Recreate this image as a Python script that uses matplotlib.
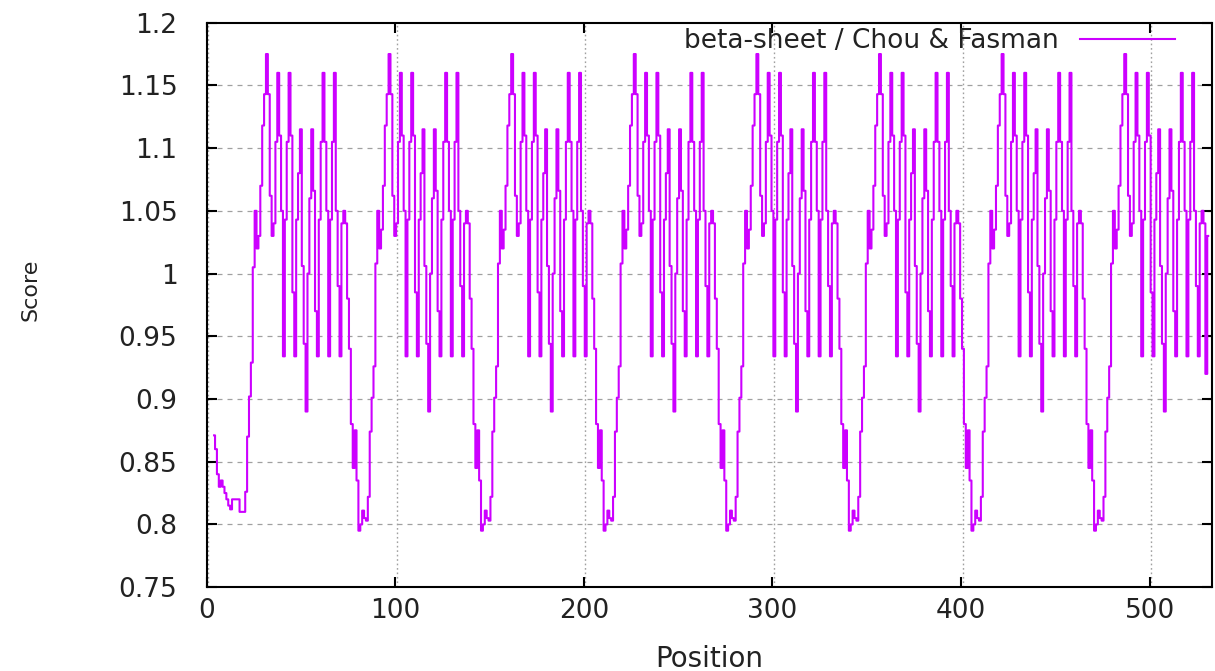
import numpy as np
import matplotlib
matplotlib.use("Agg")
import matplotlib.pyplot as plt

# first residues (before the repeat starts), positions 4..31
head = [0.871, 0.860, 0.840, 0.830, 0.835, 0.830, 0.825, 0.820, 0.815, 0.812,
        0.820, 0.820, 0.820, 0.820, 0.810, 0.810, 0.810, 0.826, 0.870, 0.902,
        0.929, 1.005, 1.050, 1.020, 1.030, 1.070, 1.118, 1.143]

# the sequence repeats every 65 residues, read from one repeat
repeat_unit = [1.175, 1.143, 1.062, 1.030, 1.040, 1.105, 1.160, 1.110, 1.050, 0.934,
               1.043, 1.105, 1.160, 1.110, 0.985, 0.934, 1.043, 1.080, 1.115, 1.006,
               0.944, 0.890, 1.000, 1.060, 1.115, 1.066, 0.970, 0.934, 1.043, 1.105,
               1.160, 1.105, 1.050, 0.934, 1.043, 1.105, 1.160, 1.050, 0.990, 0.934,
               1.040, 1.050, 1.040, 0.980, 0.940, 0.880, 0.845, 0.875, 0.835, 0.795,
               0.800, 0.811, 0.805, 0.803, 0.822, 0.874, 0.901, 0.926, 1.008, 1.050,
               1.020, 1.035, 1.070, 1.118, 1.143]
n_repeats = 7
last_part = 43   # how much of the last repeat is shown
tail = [0.920, 1.030]

score = head + repeat_unit * n_repeats + repeat_unit[:last_part] + tail
position = np.arange(4, 4 + len(score))

xticks = [0, 100, 200, 300, 400, 500]
yticks = [0.75, 0.8, 0.85, 0.9, 0.95, 1.0, 1.05, 1.1, 1.15, 1.2]
ytick_labels = ["0.75", "0.8", "0.85", "0.9", "0.95", "1", "1.05", "1.1", "1.15", "1.2"]

plt.rcParams["font.family"] = ["DejaVu Sans"]
fs = 19

fig = plt.figure(figsize=(12.15, 6.71), dpi=100)
ax = fig.add_axes([0.170, 0.125, 0.8275, 0.8412])

# low-res gnuplot output looks stepped, so draw it as steps
ax.plot(position, score, color="#cc00ff", lw=1.5, drawstyle="steps-mid",
        label="beta-sheet / Chou & Fasman")

ax.set_xlim(0, 533)
ax.set_ylim(0.75, 1.2)
ax.set_xticks(xticks)
ax.set_yticks(yticks)
ax.set_yticklabels(ytick_labels)

# gnuplot-like grid: dashed horizontal, dotted vertical
for y in yticks[1:-1]:
    ax.axhline(y, color="#a0a0a0", lw=0.9, ls=(0, (4, 4)), zorder=0)
for x in xticks:
    ax.axvline(x + 0.8, color="#a0a0a0", lw=1.0, ls=(0, (1.2, 2.0)), zorder=0)

for s in ax.spines.values():
    s.set_linewidth(1.5)
    s.set_color("black")
ax.tick_params(direction="in", length=7, width=1.5, top=True, right=True,
               labelsize=fs, labelcolor="#222222")
ax.tick_params(axis="y", pad=21)
ax.tick_params(axis="x", pad=8)

ax.set_xlabel("Position", fontsize=fs + 1, color="#222222")
ax.set_ylabel("Score", fontsize=16, color="#222222")
ax.xaxis.set_label_coords(0.5, -0.103)
ax.yaxis.set_label_coords(-0.165, 0.526)

ax.legend(loc="center right", bbox_to_anchor=(0.963, 0.9676), frameon=False,
          markerfirst=False, fontsize=fs, handlelength=3.6, handletextpad=0.8,
          borderpad=0, borderaxespad=0, labelcolor="#222222")

fig.savefig("out.png", dpi=100)
plt.close(fig)
